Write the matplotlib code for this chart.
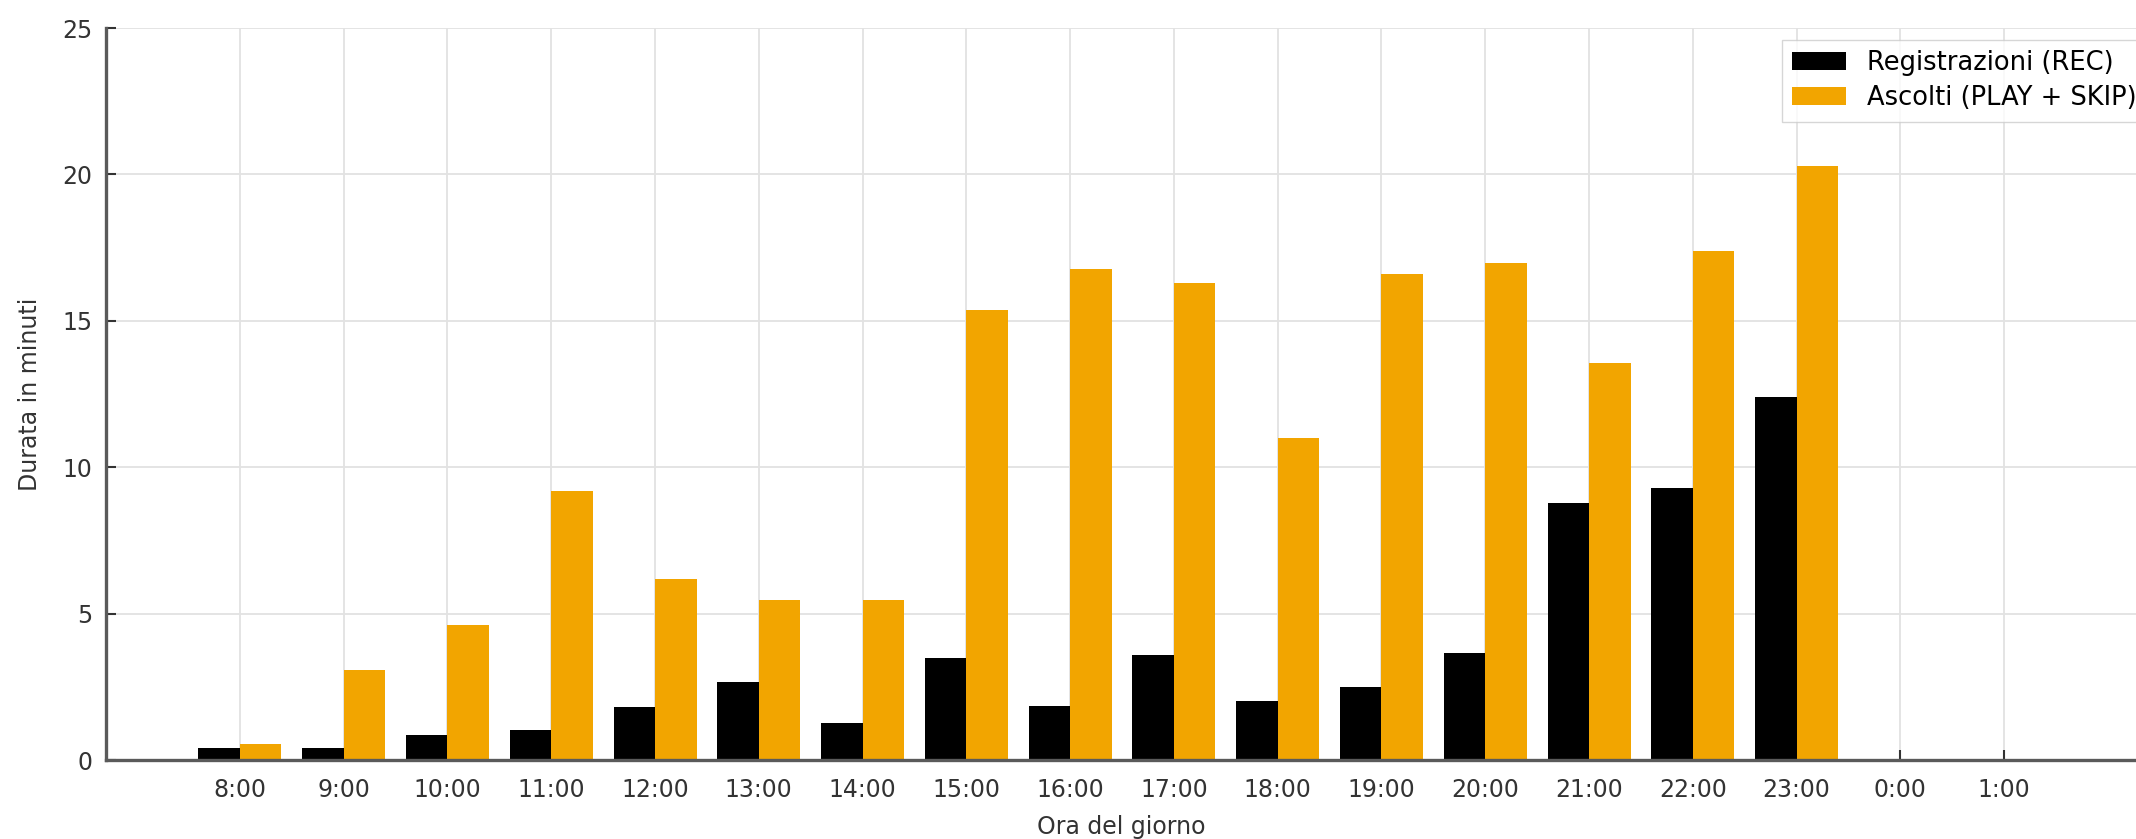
import matplotlib.pyplot as plt
import numpy as np

hours = ["8:00", "9:00", "10:00", "11:00", "12:00", "13:00", "14:00", "15:00",
         "16:00", "17:00", "18:00", "19:00", "20:00", "21:00", "22:00", "23:00",
         "0:00", "1:00"]
rec_minutes = [0.42, 0.40, 0.84, 1.02, 1.80, 2.65, 1.25, 3.48,
               1.86, 3.58, 2.00, 2.50, 3.67, 8.78, 9.29, 12.40, 0, 0]
play_minutes = [0.56, 3.07, 4.60, 9.20, 6.18, 5.48, 5.48, 15.38,
                16.77, 16.30, 11.00, 16.60, 16.96, 13.57, 17.38, 20.30, 0, 0]

fig = plt.figure(figsize=(21.36, 8.39), dpi=100)
ax = fig.add_axes([106 / 2136, 1 - 760 / 839, 1 - 106 / 2136, (760 - 28) / 839])

x = np.arange(len(hours))
width = 0.4
ax.bar(x - width / 2, rec_minutes, width, color="black", label="Registrazioni (REC)")
ax.bar(x + width / 2, play_minutes, width, color="#F2A500", label="Ascolti (PLAY + SKIP)")

ax.set_xlim(-1.29, 18.27)
ax.set_ylim(0, 25)
ax.set_xticks(x)
ax.set_xticklabels(hours)
ax.set_yticks([0, 5, 10, 15, 20, 25])

ax.set_axisbelow(True)
ax.grid(True, color="#e2e2e2", linewidth=1.3)
for side in ["top", "right"]:
    ax.spines[side].set_visible(False)
for side in ["left", "bottom"]:
    ax.spines[side].set_color("#5a5a5a")
    ax.spines[side].set_linewidth(2.4)
ax.tick_params(direction="in", length=7, width=1.5, labelsize=17,
               labelcolor="#333333", color="#333333", pad=10)
ax.tick_params(axis="x", pad=13)

ax.set_xlabel("Ora del giorno", fontsize=17, color="#333333", labelpad=9)
ax.set_ylabel("Durata in minuti", fontsize=17, color="#333333", labelpad=14)

ax.legend(loc="upper left", bbox_to_anchor=(1782 / 2136, 1 - 40 / 839),
          bbox_transform=fig.transFigure, borderaxespad=0, fontsize=18.5,
          handlelength=2.1, labelspacing=0.35, frameon=True,
          edgecolor="#cccccc", fancybox=False)

plt.savefig("out.png", dpi=100)
